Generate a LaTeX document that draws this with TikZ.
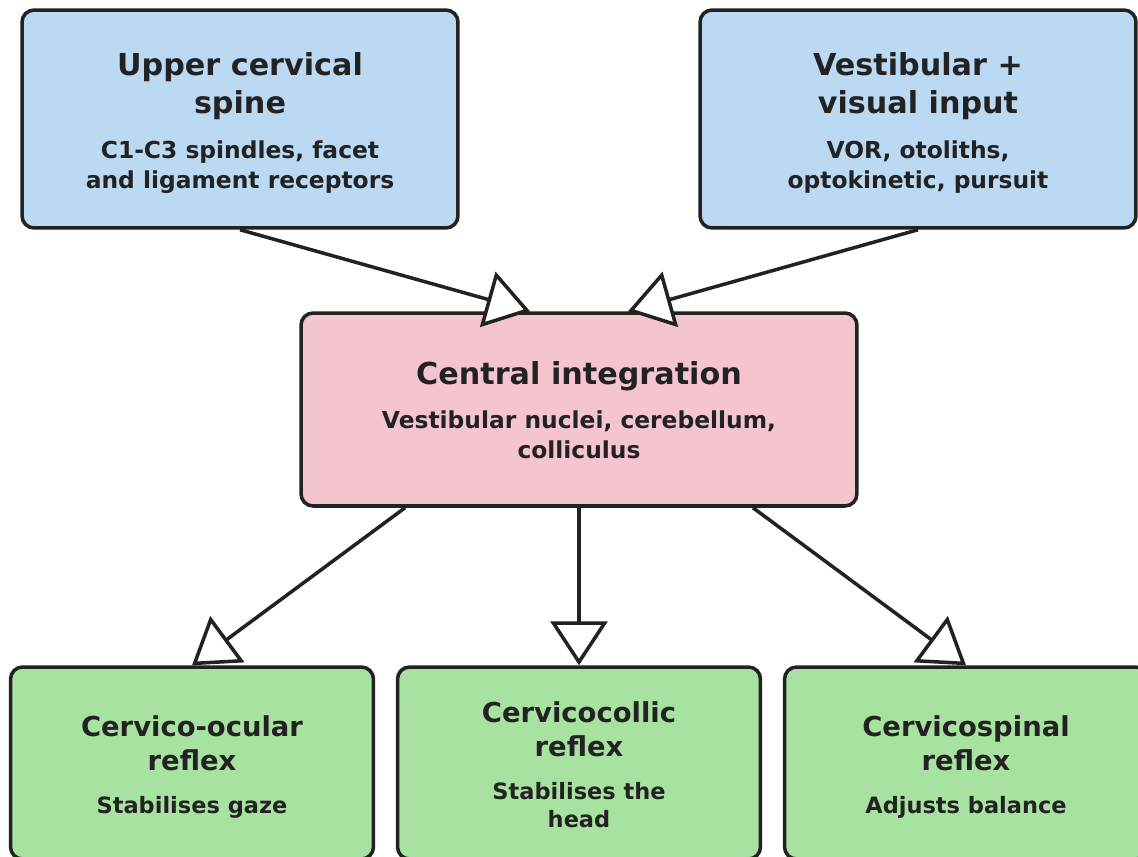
\documentclass[tikz,border=0pt]{standalone}
\usepackage{fontspec}
\setmainfont{DejaVu Sans}
\usetikzlibrary{arrows.meta}
\definecolor{inkline}{RGB}{34,34,34}
\definecolor{inputblue}{RGB}{187,217,242}
\definecolor{centralpink}{RGB}{245,197,207}
\definecolor{reflexgreen}{RGB}{168,226,160}
\newcommand{\bigttl}{\fontsize{17.2}{21.6}\selectfont\bfseries}
\newcommand{\smallttl}{\fontsize{15.6}{19.4}\selectfont\bfseries}
\newcommand{\bigsub}{\fontsize{13.3}{17}\selectfont\bfseries}
\newcommand{\smallsub}{\fontsize{12.8}{16}\selectfont\bfseries}
\tikzset{
  box/.style={draw=inkline, line width=2pt, rounded corners=0.24cm, align=flush center, inner sep=0pt, text=inkline},
  inputbox/.style={box, fill=inputblue, minimum width=8.72cm, minimum height=4.36cm, text width=8.4cm},
  centralbox/.style={box, fill=centralpink, minimum width=11.12cm, minimum height=3.86cm, text width=10.8cm},
  reflexbox/.style={box, fill=reflexgreen, minimum width=7.26cm, minimum height=3.84cm, text width=7cm},
  flow/.style={draw=inkline, line width=2pt, -{Triangle[length=0.88cm, width=1.14cm, fill=white]}}
}
\begin{document}
\begin{tikzpicture}[x=0.02cm, y=-0.02cm]
    \useasboundingbox (0,0) rectangle (1138,856);

    \node[inputbox] at (240,119)
    (U) {{\bigttl Upper cervical\\spine\par}\vspace{8.5pt}{\bigsub C1-C3 spindles, facet\\and ligament receptors\par}\vspace{-4.5pt}};
    \node[inputbox] at (918,119)
    (V) {{\bigttl Vestibular +\\visual input\par}\vspace{8.5pt}{\bigsub VOR, otoliths,\\optokinetic, pursuit\par}\vspace{-4.5pt}};
    \node[centralbox] at (579,409.5)
    (C) {{\bigttl Central integration\par}\vspace{8pt}{\bigsub Vestibular nuclei, cerebellum,\\colliculus\par}\vspace{-1pt}};

    \node[reflexbox] at (192,763)
    (L) {{\smallttl Cervico-ocular\\reflex\par}\vspace{8pt}{\smallsub Stabilises gaze\par}\vspace{-4.5pt}};
    \node[reflexbox] at (579,763)
    (M) {{\smallttl Cervicocollic\\reflex\par}\vspace{8pt}{\smallsub Stabilises the\\head\par}\vspace{-2pt}};
    \node[reflexbox] at (966,763)
    (R) {{\smallttl Cervicospinal\\reflex\par}\vspace{8pt}{\smallsub Adjusts balance\par}\vspace{-4.5pt}};

    \draw[flow] (U.south) -- ([xshift=-0.98cm]C.north);
    \draw[flow] (V.south) -- ([xshift=0.98cm]C.north);
    \draw[flow] ([xshift=-3.48cm]C.south) -- (L.north);
    \draw[flow] (C.south) -- (M.north);
    \draw[flow] ([xshift=3.48cm]C.south) -- (R.north);
\end{tikzpicture}
\end{document}
